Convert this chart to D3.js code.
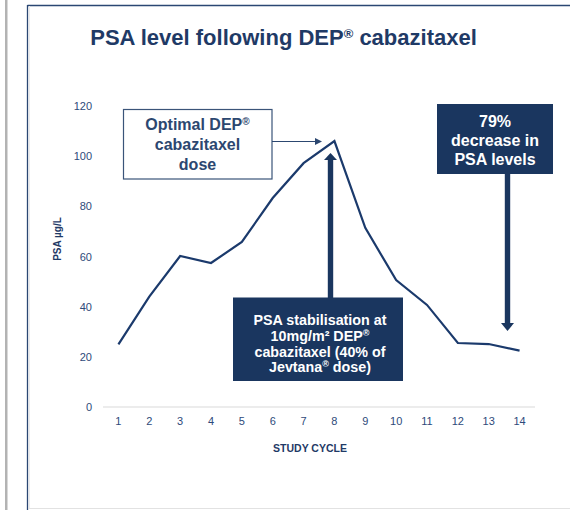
<!DOCTYPE html>
<html>
<head>
<meta charset="utf-8">
<script src="https://cdn.jsdelivr.net/npm/d3@7"></script>
<style>
  html, body { margin: 0; padding: 0; background: #fff; }
  svg { display: block; }
  text { font-family: "Liberation Sans", Arial, sans-serif; }
</style>
</head>
<body>
<svg id="chart" width="570" height="510"></svg>
<script>
// ---- data ----
const cycles = [1,2,3,4,5,6,7,8,9,10,11,12,13,14];
const psa    = [25, 44, 60.2, 57.4, 65.8, 83.3, 97.2, 106, 71.4, 50.6, 40.7, 25.5, 25.1, 22.5];
const yTicks = [0, 20, 40, 60, 80, 100, 120];

const navy = "#1a365f";
const textNavy = "#1f3a66";

const svg = d3.select("#chart");

// ---- frame ----
svg.append("rect").attr("x", 5).attr("y", 0).attr("width", 2.5).attr("height", 510).attr("fill", "#b3b3b3");
svg.append("line").attr("x1", 27.5).attr("x2", 570).attr("y1", 5.5).attr("y2", 5.5)
   .attr("stroke", "#2b4773").attr("stroke-width", 1.3);
svg.append("line").attr("x1", 27.5).attr("x2", 27.5).attr("y1", 5).attr("y2", 510)
   .attr("stroke", "#2b4773").attr("stroke-width", 1.3);
svg.append("line").attr("x1", 29.5).attr("x2", 29.5).attr("y1", 6).attr("y2", 508)
   .attr("stroke", "#ececec").attr("stroke-width", 1);
svg.append("line").attr("x1", 28).attr("x2", 570).attr("y1", 508.5).attr("y2", 508.5)
   .attr("stroke", "#e2e2e2").attr("stroke-width", 1);

// ---- title ----
const title = svg.append("text").attr("x", 283.5).attr("y", 45).attr("text-anchor", "middle")
   .attr("font-size", 22).attr("font-weight", "bold").attr("fill", textNavy);
title.append("tspan").text("PSA level following DEP");
title.append("tspan").attr("font-size", 13).attr("baseline-shift", "super").text("®");
title.append("tspan").text(" cabazitaxel");

// ---- scales ----
const x = d3.scaleBand().domain(cycles).range([103, 535]).padding(0);
const y = d3.scaleLinear().domain([0, 120]).range([407, 106]);
const cx = d => x(d) + x.bandwidth() / 2;

// baseline
svg.append("line").attr("x1", 103).attr("x2", 535).attr("y1", y(0)).attr("y2", y(0))
   .attr("stroke", "#d9d9d9").attr("stroke-width", 1);

// y axis labels
const yAxis = d3.axisLeft(y).tickValues(yTicks).tickSize(0).tickPadding(11);
const gy = svg.append("g").attr("transform", "translate(103,0)").call(yAxis);
gy.select(".domain").remove();
gy.selectAll("text").attr("font-family", "Liberation Sans, Arial, sans-serif")
  .attr("font-size", 11).attr("fill", "#2e4a7a");

// x axis labels
const xAxis = d3.axisBottom(x).tickSize(0).tickPadding(10);
const gx = svg.append("g").attr("transform", `translate(0,${y(0)})`).call(xAxis);
gx.select(".domain").remove();
gx.selectAll("text").attr("font-family", "Liberation Sans, Arial, sans-serif")
  .attr("font-size", 11).attr("fill", "#2e4a7a");

// axis titles
svg.append("text").attr("x", 310).attr("y", 452).attr("text-anchor", "middle")
   .attr("font-size", 10.5).attr("font-weight", "bold").attr("fill", textNavy).text("STUDY CYCLE");
svg.append("text").attr("transform", "translate(60.5,239) rotate(-90)").attr("text-anchor", "middle")
   .attr("font-size", 10).attr("font-weight", "bold").attr("fill", textNavy).text("PSA µg/L");

// ---- line ----
const line = d3.line().x((d, i) => cx(cycles[i])).y(d => y(d));
svg.append("path").datum(psa).attr("d", line).attr("fill", "none")
   .attr("stroke", "#1b3a6c").attr("stroke-width", 2.2).attr("stroke-linejoin", "miter");

// ---- annotations ----
// Box 1: Optimal dose (white box)
svg.append("rect").attr("x", 123.5).attr("y", 109.5).attr("width", 148.5).attr("height", 69.5)
   .attr("fill", "#fff").attr("stroke", "#3a5479").attr("stroke-width", 1.2);
const b1 = svg.append("g").attr("font-size", 16).attr("font-weight", "bold").attr("fill", "#2c4770")
   .attr("text-anchor", "middle");
const l1 = b1.append("text").attr("x", 197.5).attr("y", 130);
l1.append("tspan").text("Optimal DEP");
l1.append("tspan").attr("font-size", 10).attr("baseline-shift", "super").text("®");
b1.append("text").attr("x", 197.5).attr("y", 150).text("cabazitaxel");
b1.append("text").attr("x", 197.5).attr("y", 170).text("dose");

// thin arrow to peak
const peakY = y(psa[7]);
svg.append("line").attr("x1", 272).attr("x2", 316).attr("y1", 141.5).attr("y2", 141.5)
   .attr("stroke", "#2c4770").attr("stroke-width", 1.2);
svg.append("path").attr("d", "M322,141.5 L315,138 L315,145 Z").attr("fill", "#2c4770");

// thick arrow from box 2 to peak
const a2x = 330.5;
svg.append("rect").attr("x", a2x - 2.7).attr("y", 158).attr("width", 5.4).attr("height", 298 - 158)
   .attr("fill", navy);
svg.append("path").attr("d", `M${a2x},153 L${a2x - 6.5},160 L${a2x + 6.5},160 Z`).attr("fill", navy);

// Box 2
svg.append("rect").attr("x", 233).attr("y", 297.5).attr("width", 170).attr("height", 83.5).attr("fill", navy);
const b2 = svg.append("g").attr("font-size", 14.3).attr("font-weight", "bold").attr("fill", "#fff")
   .attr("text-anchor", "middle");
b2.append("text").attr("x", 320).attr("y", 325).text("PSA stabilisation at");
const l22 = b2.append("text").attr("x", 320).attr("y", 341);
l22.append("tspan").text("10mg/m² DEP");
l22.append("tspan").attr("font-size", 9).attr("baseline-shift", "super").text("®");
b2.append("text").attr("x", 320).attr("y", 356.5).text("cabazitaxel (40% of");
const l24 = b2.append("text").attr("x", 320).attr("y", 372);
l24.append("tspan").text("Jevtana");
l24.append("tspan").attr("font-size", 9).attr("baseline-shift", "super").text("®");
l24.append("tspan").text(" dose)");

// Box 3
svg.append("rect").attr("x", 437).attr("y", 104).attr("width", 116).attr("height", 70).attr("fill", navy);
const b3 = svg.append("g").attr("font-size", 16).attr("font-weight", "bold").attr("fill", "#fff")
   .attr("text-anchor", "middle");
b3.append("text").attr("x", 495).attr("y", 127).text("79%");
b3.append("text").attr("x", 495).attr("y", 146).text("decrease in");
b3.append("text").attr("x", 495).attr("y", 165).text("PSA levels");

// thick arrow down toward cycle 14
const a3x = 507.5;
svg.append("rect").attr("x", a3x - 2.7).attr("y", 174).attr("width", 5.4).attr("height", 323 - 174)
   .attr("fill", navy);
svg.append("path").attr("d", `M${a3x},331 L${a3x - 6.5},323 L${a3x + 6.5},323 Z`).attr("fill", navy);
</script>
</body>
</html>
